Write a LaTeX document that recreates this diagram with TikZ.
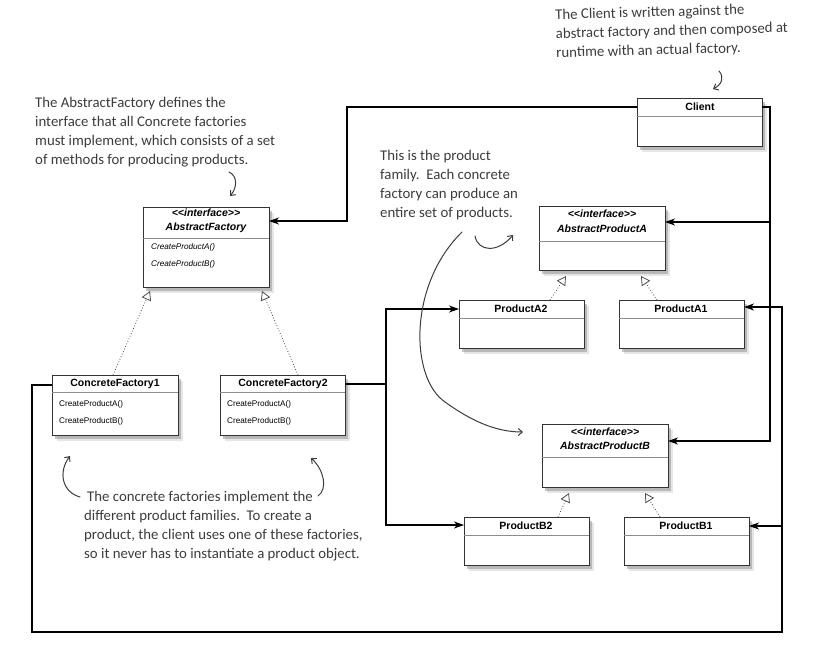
\documentclass[tikz,border=0pt]{standalone}
\usepackage{fontspec}
\setmainfont{Liberation Sans}
\newfontfamily\handfont{Carlito}
\usetikzlibrary{arrows.meta,shadows}
\definecolor{ink}{HTML}{3C3C3C}
\newcommand{\stereo}{<\kern0pt<interface>\kern0pt>}
\newcommand{\umlclass}[6]{%
  \node[umlbox, minimum width={(#4-#2)*1pt}, minimum height={(#5-#3)*1pt}] (#1) at ({(#2+#4)/2},{(#3+#5)/2}) {};
  \draw[sepline] (#1.west |- 0,#6) -- (#1.east |- 0,#6);
}
\tikzset{
  umlbox/.style={draw=black!80, line width=0.8pt, fill=white, inner sep=0pt, outer sep=0pt,
    drop shadow={shadow xshift=4.5pt, shadow yshift=-5.5pt, opacity=.2},
    drop shadow={shadow xshift=2.5pt, shadow yshift=-3.5pt, opacity=.45}},
  sepline/.style={draw=black!45, line width=1pt},
  hdr/.style={font=\fontsize{10.5}{12}\selectfont\bfseries, inner sep=0pt},
  ihdr/.style={font=\fontsize{10.5}{12}\selectfont\bfseries\itshape, inner sep=0pt},
  meth/.style={font=\fontsize{8.2}{10}\selectfont, anchor=west, inner sep=0pt},
  imeth/.style={font=\fontsize{8.2}{10}\selectfont\itshape, anchor=west, inner sep=0pt},
  conn/.style={draw=black, line width=1.3pt, -{Stealth[length=10pt,width=7pt,inset=3pt]}},
  real/.style={draw=black!70, line width=0.8pt, dotted, -{Triangle[open,length=9pt,width=10pt,line width=0.8pt]}},
  hand/.style={font=\handfont\fontsize{14.8}{19}\selectfont, text=ink, align=left, inner sep=0pt, anchor=north west},
  harrow/.style={draw=ink, line width=1pt, line cap=round, -{Straight Barb[length=4pt,width=7pt]}}
}
\begin{document}
\begin{tikzpicture}[x=1pt,y=-1pt]
\useasboundingbox (0,0) rectangle (822,645);

% ---- classes ----
\umlclass{client}{637}{98}{762}{146}{116}
\node[hdr] (clientT) at (700,107) {Client};

\umlclass{af}{143}{207}{269}{287}{238}
\node[ihdr] (afS) at (206,213) {\stereo};
\node[ihdr] (afT) at (206,228) {AbstractFactory};
\node[imeth] (afM1) at (151,247) {CreateProductA()};
\node[imeth] (afM2) at (151,264) {CreateProductB()};

\umlclass{cf1}{52}{375}{178}{435}{392}
\node[hdr] (cf1T) at (115,384) {ConcreteFactory1};
\node[meth] (cf1M1) at (59,404) {CreateProductA()};
\node[meth] (cf1M2) at (59,421) {CreateProductB()};

\umlclass{cf2}{220}{375}{345}{435}{392}
\node[hdr] (cf2T) at (283,384) {ConcreteFactory2};
\node[meth] (cf2M1) at (227,404) {CreateProductA()};
\node[meth] (cf2M2) at (227,421) {CreateProductB()};

\umlclass{apa}{539}{206}{665}{270}{241}
\node[ihdr] (apaS) at (602,214) {\stereo};
\node[ihdr] (apaT) at (602,229) {AbstractProductA};

\umlclass{apb}{542}{424}{668}{487}{457}
\node[ihdr] (apbS) at (605,432) {\stereo};
\node[ihdr] (apbT) at (605,446) {AbstractProductB};

\umlclass{pa2}{459}{300}{584}{348}{318}
\node[hdr] (pa2T) at (521,309) {ProductA2};
\umlclass{pa1}{619}{300}{744}{348}{318}
\node[hdr] (pa1T) at (681,309) {ProductA1};
\umlclass{pb2}{464}{517}{589}{565}{535}
\node[hdr] (pb2T) at (526,526) {ProductB2};
\umlclass{pb1}{624}{517}{749}{565}{535}
\node[hdr] (pb1T) at (686,526) {ProductB1};

% ---- associations ----
\coordinate (j1) at (347,221);
\draw[conn] (client.west |- 0,107) -| (j1) -- (af.east |- j1);

\coordinate (j2) at (770,222);
\draw[conn] (client.east |- 0,107) -| (j2) -- (apa.east |- j2);
\coordinate (j3) at (770,441);
\draw[conn] (j2) -- (j3) -- (apb.east |- j3);

\coordinate (j4) at (32,632);
\coordinate (j5) at (782,307);
\coordinate (j6) at (782,526);
\draw[conn] (cf1.west |- 0,385) -| (j4) -| (j5) -- (pa1.east |- j5);
\draw[conn] (j6) -- (pb1.east |- j6);

\coordinate (j7) at (386,309);
\coordinate (j8) at (386,525);
\draw[conn] (cf2.east |- 0,384) -| (j7) -- (pa2.west |- j7);
\draw[conn] (386,384) -- (j8) -- (pb2.west |- j8);

% ---- realizations ----
\coordinate (r1) at (150,291);
\coordinate (r2) at (262,291);
\coordinate (r3) at (566,276);
\coordinate (r4) at (641,276);
\coordinate (r5) at (569,493);
\coordinate (r6) at (645,493);
\draw[real] (cf1.north -| 113,0) -- (r1);
\draw[real] (cf2.north -| 298,0) -- (r2);
\draw[real] (pa2.north -| 550,0) -- (r3);
\draw[real] (pa1.north -| 657,0) -- (r4);
\draw[real] (pb2.north -| 558,0) -- (r5);
\draw[real] (pb1.north -| 660,0) -- (r6);

% ---- annotations ----
\node[hand, rotate=1.5] (noteClient) at (555,9) {The Client is written against the\\abstract factory and then composed at\\runtime with an actual factory.};
\draw[harrow] (719,71) .. controls (725,78) and (721,85) .. (713,89);

\node[hand] (noteAF) at (35,97) {The AbstractFactory defines the\\interface that all Concrete factories\\must implement, which consists of a set\\of methods for producing products.};
\draw[harrow] (229,172) .. controls (238,176) and (237,188) .. (230,196);

\node[hand] (noteFam) at (380,150) {This is the product\\family.\ \ Each concrete\\factory can produce an\\entire set of products.};
\draw[harrow] (475,236) .. controls (478,252) and (498,253) .. (513,235);
\draw[harrow] (462,232) .. controls (408,285) and (410,378) .. (445,402) .. controls (470,420) and (495,432) .. (523,432);

\node[hand] (noteCF) at (84,491) {\hspace{3pt}The concrete factories implement the\\different product families.\ \ To create a\\product, the client uses one of these factories,\\so it never has to instantiate a product object.};
\draw[harrow] (80,497) .. controls (62,492) and (58,472) .. (70,456);
\draw[harrow] (318,496) .. controls (328,489) and (324,470) .. (311,458);
\end{tikzpicture}
\end{document}
